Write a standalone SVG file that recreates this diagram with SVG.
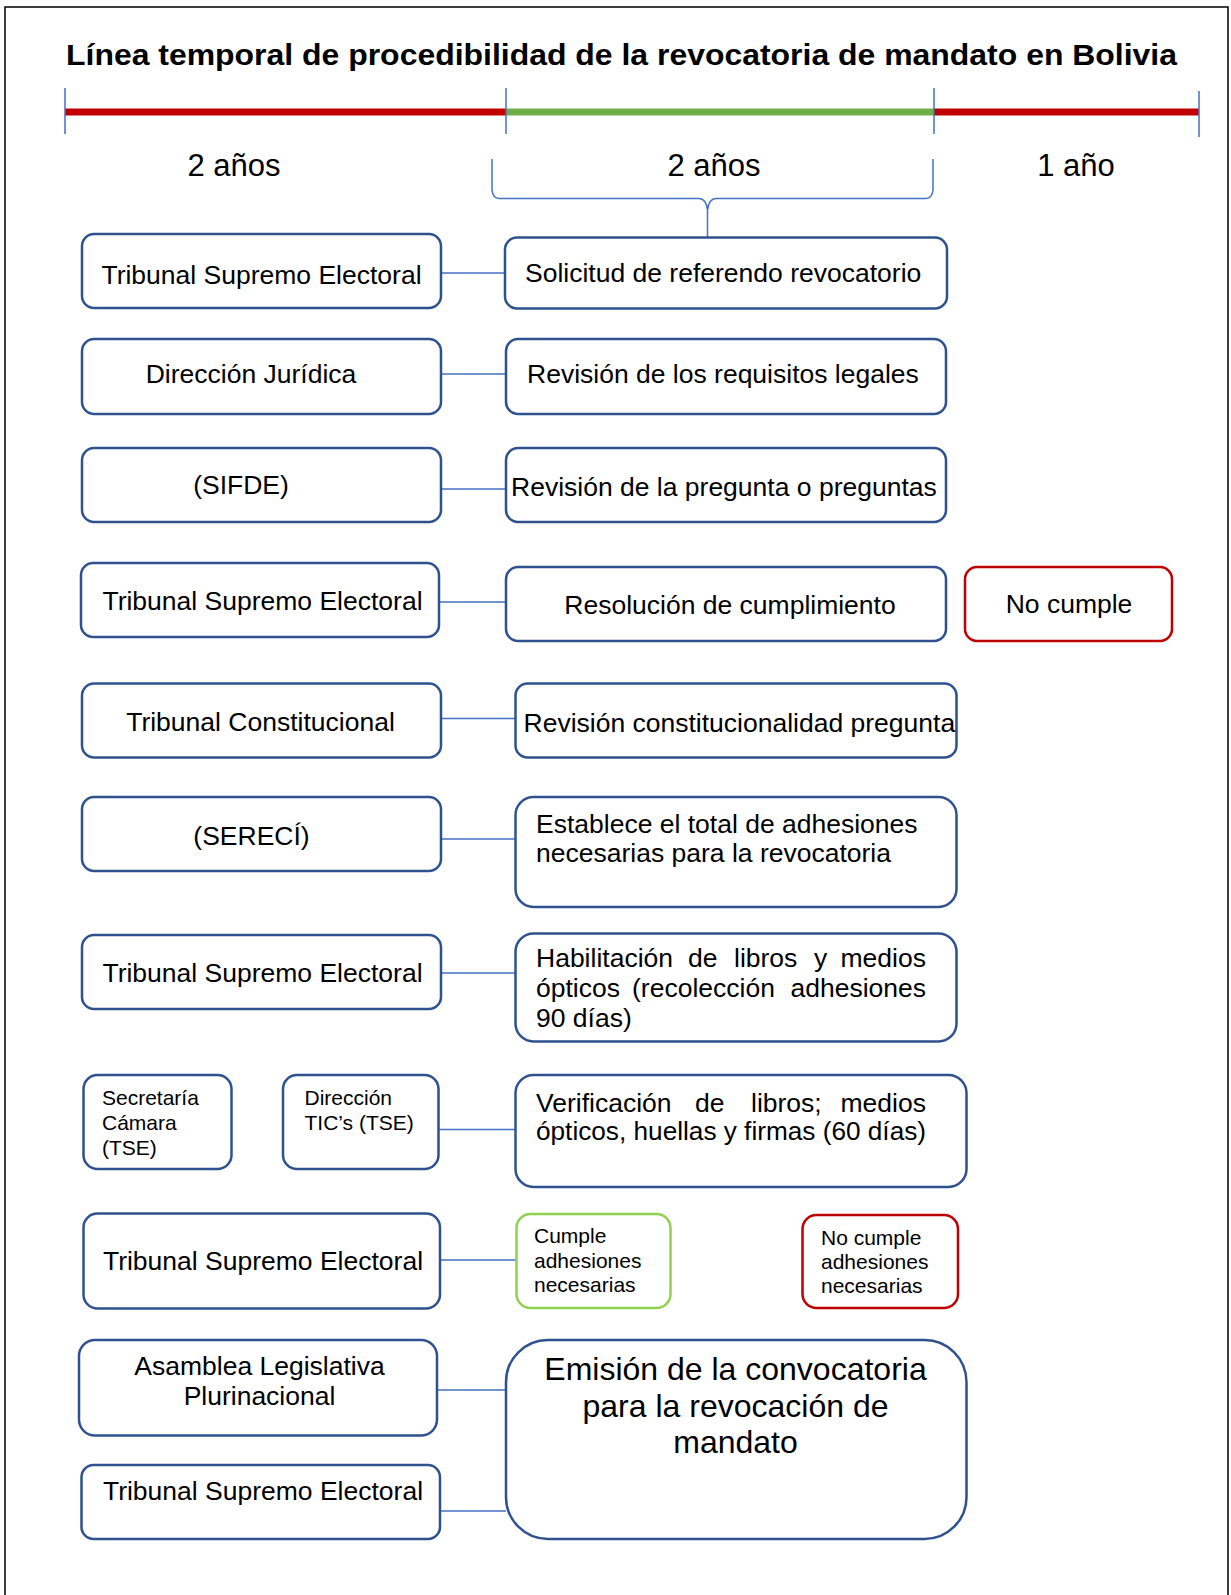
<svg xmlns="http://www.w3.org/2000/svg" width="1231" height="1595" viewBox="0 0 1231 1595">
<style>
text{font-family:"Liberation Sans",Arial,sans-serif;fill:#000}
.t{font-size:26.5px}
.c{text-anchor:middle}
.s{font-size:21px}
.box{fill:#fff;stroke:#2F528F;stroke-width:2.5}
.red{fill:#fff;stroke:#C00000;stroke-width:2.5}
.grn{fill:#fff;stroke:#92D050;stroke-width:2.5}
.con{stroke:#4472C4;stroke-width:1.5;fill:none}
</style>
<rect x="0" y="0" width="1231" height="1595" fill="#fff"/>
<path d="M5,1600 V7 H1228 V1600" fill="none" stroke="#000" stroke-width="1.5"/>
<g id="title">
<text x="66" y="65" font-size="30" font-weight="bold" textLength="1111" lengthAdjust="spacingAndGlyphs">Línea temporal de procedibilidad de la revocatoria de mandato en Bolivia</text>
</g>
<g id="timeline">
<rect x="65" y="108.5" width="441" height="7" fill="#C00000"/>
<rect x="506" y="108.5" width="428" height="7" fill="#70AD47"/>
<rect x="934" y="108.5" width="265" height="7" fill="#C00000"/>
<path class="con" d="M65,88 V134 M506,88 V134 M934,88 V134 M1199,91 V137"/>
<text x="234" y="176" font-size="31" class="c">2 años</text>
<text x="714" y="176" font-size="31" class="c">2 años</text>
<text x="1076" y="176" font-size="31" class="c">1 año</text>
<path class="con" d="M492,159 V190 Q493,198.5 499,198.5 H699 Q706,198.5 707.5,210 V237 M707.5,210 Q709,198.5 716,198.5 H926 Q932,198.5 933,190 V159"/>
</g>
<g id="connectors">
<path class="con" d="M441,273 H505 M441,374 H506 M441,489 H506 M439,602 H506 M441,718.5 H515 M441,839 H515 M441,973 H515 M438.5,1129.5 H515 M440,1260 H516.5 M437,1390 H506 M440,1511 H506"/>
</g>
<g id="n1"><rect class="box" x="82" y="234" width="359" height="74" rx="12"/><text class="t c" x="261.5" y="284">Tribunal Supremo Electoral</text></g>
<g id="n2"><rect class="box" x="505" y="237.5" width="442" height="71" rx="12"/><text class="t" x="525" y="282">Solicitud de referendo revocatorio</text></g>
<g id="n3"><rect class="box" x="82" y="339" width="359" height="75" rx="12"/><text class="t c" x="251" y="383">Dirección Jurídica</text></g>
<g id="n4"><rect class="box" x="506" y="339" width="440" height="75" rx="12"/><text class="t" x="527" y="383">Revisión de los requisitos legales</text></g>
<g id="n5"><rect class="box" x="82" y="448" width="359" height="74" rx="12"/><text class="t c" x="241" y="494">(SIFDE)</text></g>
<g id="n6"><rect class="box" x="506" y="448" width="440" height="74" rx="12"/><text class="t" x="511" y="495.5">Revisión de la pregunta o preguntas</text></g>
<g id="n7"><rect class="box" x="81" y="563" width="358" height="74" rx="12"/><text class="t c" x="262.5" y="610">Tribunal Supremo Electoral</text></g>
<g id="n8"><rect class="box" x="506" y="567" width="440" height="74" rx="12"/><text class="t c" x="730" y="614">Resolución de cumplimiento</text></g>
<g id="n9"><rect class="red" x="965" y="567" width="207" height="74" rx="12"/><text class="t c" x="1069" y="613">No cumple</text></g>
<g id="n10"><rect class="box" x="82" y="683.5" width="359" height="74" rx="12"/><text class="t c" x="260.5" y="730.5">Tribunal Constitucional</text></g>
<g id="n11"><rect class="box" x="515.5" y="683.5" width="441" height="74" rx="12"/><text class="t" x="523.5" y="731.5">Revisión constitucionalidad pregunta</text></g>
<g id="n12"><rect class="box" x="82" y="797" width="359" height="74" rx="12"/><text class="t c" x="251.5" y="845">(SERECÍ)</text></g>
<g id="n13"><rect class="box" x="515.5" y="797" width="441" height="110" rx="18"/><text class="t" x="536" y="832.5">Establece el total de adhesiones</text><text class="t" x="536" y="862">necesarias para la revocatoria</text></g>
<g id="n14"><rect class="box" x="82" y="935" width="359" height="74" rx="12"/><text class="t c" x="262.5" y="981.5">Tribunal Supremo Electoral</text></g>
<g id="n15"><rect class="box" x="515.5" y="933.5" width="441" height="108" rx="18"/>
<text class="t" y="966.5"><tspan x="536">Habilitación</tspan><tspan x="688">de</tspan><tspan x="734">libros</tspan><tspan x="814">y</tspan><tspan x="840.5">medios</tspan></text>
<text class="t" y="996.5"><tspan x="536">ópticos</tspan><tspan x="632">(recolección</tspan><tspan x="790.5">adhesiones</tspan></text>
<text class="t" x="536" y="1026.5">90 días)</text></g>
<g id="n16"><rect class="box" x="83.5" y="1075" width="148" height="94" rx="14"/><text class="s" x="102" y="1105">Secretaría</text><text class="s" x="102" y="1130">Cámara</text><text class="s" x="102" y="1155">(TSE)</text></g>
<g id="n17"><rect class="box" x="283" y="1075" width="155.5" height="94" rx="14"/><text class="s" x="304.5" y="1105">Dirección</text><text class="s" x="304.5" y="1130">TIC’s (TSE)</text></g>
<g id="n18"><rect class="box" x="515.5" y="1075" width="451" height="112" rx="18"/>
<text class="t" y="1111.5"><tspan x="536">Verificación</tspan><tspan x="695">de</tspan><tspan x="751">libros;</tspan><tspan x="840.5">medios</tspan></text>
<text class="t" x="536" y="1140" textLength="390" lengthAdjust="spacingAndGlyphs">ópticos, huellas y firmas (60 días)</text></g>
<g id="n19"><rect class="box" x="83.5" y="1213.5" width="356.5" height="95" rx="14"/><text class="t c" x="263" y="1270">Tribunal Supremo Electoral</text></g>
<g id="n20"><rect class="grn" x="516.5" y="1214" width="154" height="94" rx="14"/><text class="s" x="534" y="1243">Cumple</text><text class="s" x="534" y="1268">adhesiones</text><text class="s" x="534" y="1292">necesarias</text></g>
<g id="n21"><rect class="red" x="802.5" y="1215" width="155.5" height="93" rx="14"/><text class="s" x="821" y="1245">No cumple</text><text class="s" x="821" y="1269">adhesiones</text><text class="s" x="821" y="1293">necesarias</text></g>
<g id="n22"><rect class="box" x="79" y="1340" width="358" height="95.5" rx="16"/><text class="t c" x="259.5" y="1375">Asamblea Legislativa</text><text class="t c" x="259.5" y="1405">Plurinacional</text></g>
<g id="n23"><rect class="box" x="81.5" y="1465" width="358.5" height="74" rx="12"/><text class="t c" x="263" y="1500">Tribunal Supremo Electoral</text></g>
<g id="n24"><rect class="box" x="506" y="1340" width="460.5" height="199" rx="42"/><text font-size="32" class="c" x="735.5" y="1380">Emisión de la convocatoria</text><text font-size="32" class="c" x="735.5" y="1416.5">para la revocación de</text><text font-size="32" class="c" x="735.5" y="1453">mandato</text></g>
</svg>
